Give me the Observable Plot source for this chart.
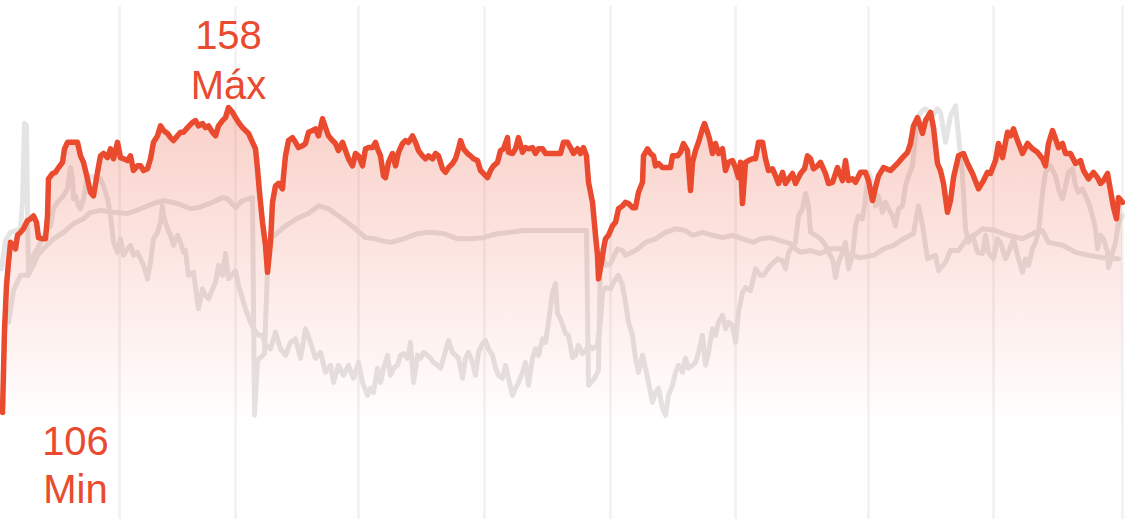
<!DOCTYPE html>
<html><head><meta charset="utf-8">
<script src="https://cdn.jsdelivr.net/npm/d3@7"></script>
<script src="https://cdn.jsdelivr.net/npm/@observablehq/plot@0.6"></script>
<style>html,body{margin:0;padding:0;background:#fff;overflow:hidden}</style>
</head><body><div id="chart"></div>
<script>
// elapsed time units (t) and heart rate (bpm)
const current = [[2,106.2],[4,120.1],[6,127.8],[8,131.7],[10,135.1],[13,134.6],[15,134.0],[17,136.3],[20,136.8],[23,137.4],[27,138.8],[30,139.1],[33,139.6],[36,138.5],[38,135.9],[42,135.7],[45,135.7],[47,139.6],[48,145.9],[52,146.8],[55,147.0],[58,147.8],[62,148.7],[64,151.0],[67,152.1],[72,152.1],[77,152.1],[80,149.8],[83,148.7],[87,145.9],[90,143.6],[93,143.0],[97,147.0],[100,149.8],[103,150.2],[107,149.5],[110,151.0],[113,149.3],[117,152.1],[120,149.5],[123,149.3],[127,149.0],[130,149.8],[133,147.3],[137,148.1],[140,148.1],[143,147.3],[147,147.6],[150,149.3],[153,152.1],[157,153.2],[160,154.9],[163,154.1],[167,153.6],[170,152.9],[173,152.4],[177,153.2],[180,153.8],[183,153.8],[187,154.6],[192,155.5],[195,155.8],[198,154.9],[202,155.3],[205,154.6],[208,154.9],[212,153.8],[215,153.2],[218,154.9],[222,155.8],[225,156.3],[228,158.0],[232,157.2],[235,156.3],[238,155.5],[242,154.6],[245,154.1],[248,153.6],[252,152.1],[255,151.0],[257,147.6],[259,143.6],[262,138.5],[265,134.6],[267,130.0],[270,135.1],[272,141.9],[275,144.7],[278,145.1],[282,144.2],[283,146.4],[285,149.8],[288,152.4],[292,152.9],[295,152.1],[298,151.2],[302,151.5],[305,151.9],[308,153.8],[312,154.1],[315,154.4],[318,153.2],[322,156.1],[325,154.6],[328,153.2],[332,152.4],[335,151.9],[338,150.7],[342,152.1],[345,150.7],[348,149.3],[352,148.1],[355,150.2],[358,149.8],[362,148.1],[365,151.0],[368,151.2],[372,151.2],[375,152.1],[377,151.0],[380,149.8],[383,146.4],[385,146.1],[388,148.7],[392,150.2],[395,148.1],[398,150.4],[402,151.9],[405,152.4],[408,152.1],[412,153.2],[415,152.1],[418,150.7],[422,149.8],[425,149.3],[428,149.8],[432,149.3],[435,150.2],[438,149.8],[442,147.6],[445,147.0],[448,147.8],[452,148.5],[455,149.3],[458,151.0],[460,152.4],[463,151.0],[467,150.2],[470,149.8],[473,149.3],[477,149.0],[480,147.3],[483,146.8],[487,146.1],[490,147.3],[493,148.1],[497,148.7],[500,150.7],[503,151.0],[507,152.9],[508,150.4],[512,150.2],[515,151.0],[518,152.9],[522,150.4],[525,151.2],[528,151.0],[532,151.2],[535,150.2],[538,151.0],[542,151.0],[545,150.2],[560,150.2],[563,152.1],[567,152.1],[570,151.2],[573,150.2],[577,151.0],[580,150.2],[583,151.2],[586,149.8],[588,145.3],[592,141.9],[595,136.3],[597,132.9],[598,128.9],[601,131.7],[603,134.0],[605,135.7],[608,136.3],[612,137.9],[615,138.5],[618,140.8],[622,141.3],[625,141.9],[628,141.7],[632,141.0],[635,141.0],[638,143.6],[642,145.3],[643,149.8],[647,151.0],[650,150.2],[653,149.8],[655,148.1],[658,148.5],[662,147.8],[670,147.8],[672,149.8],[677,149.8],[680,150.4],[683,151.9],[687,150.7],[690,143.9],[692,148.7],[695,150.7],[698,152.1],[702,154.4],[704,155.3],[707,153.8],[709,152.7],[712,150.2],[715,151.9],[718,150.2],[722,151.0],[725,147.3],[728,148.7],[732,149.0],[735,147.8],[738,146.1],[740,148.7],[742,141.7],[745,148.7],[748,149.0],[752,149.3],[755,149.3],[758,152.1],[762,152.1],[765,149.3],[768,147.3],[772,147.6],[775,146.4],[778,145.1],[782,147.0],[785,145.1],[789,146.1],[792,146.8],[795,145.1],[800,146.8],[804,147.6],[807,149.8],[810,149.3],[813,147.6],[817,148.1],[820,148.7],[825,146.8],[828,145.1],[832,145.3],[837,147.8],[842,145.6],[845,149.0],[848,145.6],[852,145.9],[855,145.3],[860,147.0],[865,147.0],[868,145.6],[872,142.2],[875,144.4],[878,146.4],[883,147.8],[890,147.3],[897,148.5],[902,149.5],[907,150.4],[910,151.9],[913,154.9],[917,156.3],[922,153.6],[925,155.8],[930,157.2],[933,154.6],[937,148.5],[940,147.3],[943,145.1],[947,140.2],[950,142.2],[953,146.1],[958,149.8],[963,150.2],[967,148.5],[972,146.8],[978,144.2],[983,145.6],[987,147.0],[990,146.8],[995,149.0],[998,151.9],[1002,149.5],[1007,153.8],[1010,153.2],[1013,154.4],[1017,152.4],[1022,150.2],[1027,151.9],[1032,151.0],[1037,150.4],[1042,149.3],[1045,148.1],[1048,151.9],[1052,154.1],[1055,152.7],[1058,151.2],[1062,151.9],[1065,150.2],[1070,150.2],[1075,148.5],[1080,149.0],[1083,147.3],[1088,145.9],[1093,147.0],[1097,146.1],[1100,145.1],[1103,145.6],[1107,146.8],[1110,143.9],[1113,141.0],[1116,139.1],[1118,142.7],[1122,141.9]];

const averageSeries = [[8,121.5],[13,126.9],[20,129.5],[27,129.5],[33,131.2],[37,132.9],[43,134.0],[53,135.7],[63,136.8],[73,138.3],[83,139.1],[90,140.2],[100,140.5],[113,140.2],[127,140.0],[140,140.8],[153,141.7],[163,142.2],[177,141.7],[190,140.8],[198,141.0],[212,141.9],[222,142.7],[227,142.5],[235,141.0],[242,142.2],[252,142.7],[254,105.7],[257,115.0],[264,116.2],[268,135.4],[285,137.9],[298,139.3],[308,140.0],[318,141.3],[328,140.8],[342,139.1],[355,137.4],[365,135.9],[375,135.7],[380,135.4],[390,135.1],[403,135.7],[417,136.6],[430,136.8],[443,136.6],[457,135.7],[470,135.7],[483,135.9],[497,136.6],[510,136.8],[523,137.1],[550,137.1],[586,137.1],[588,110.8],[594,112.0],[598,113.3],[600,133.7],[605,131.2],[610,131.5],[617,134.0],[622,133.7],[625,132.9],[635,133.7],[645,135.1],[655,135.7],[665,136.8],[675,137.4],[685,137.1],[692,136.3],[702,136.8],[712,136.3],[722,135.9],[732,136.3],[742,135.7],[753,135.1],[760,135.7],[770,135.9],[780,135.4],[790,134.9],[795,134.0],[800,133.4],[810,133.7],[820,133.2],[830,134.0],[840,134.0],[850,132.9],[860,132.5],[873,132.9],[883,134.0],[893,134.6],[903,135.7],[913,136.6],[918,141.3],[922,138.0],[927,132.3],[935,132.9],[938,130.3],[945,131.7],[950,133.7],[958,133.7],[965,135.4],[972,136.1],[982,137.4],[995,137.1],[1008,136.3],[1022,135.7],[1035,136.8],[1042,137.1],[1048,135.1],[1062,134.6],[1075,133.4],[1088,132.9],[1102,132.5],[1118,132.3]];

const previousSeries = [[1,130.6],[5,135.4],[10,136.8],[15,137.1],[20,137.4],[22,142.2],[24,155.3],[26,154.9],[27,141.3],[28,129.5],[30,130.3],[33,132.9],[37,134.0],[40,135.1],[43,136.3],[47,137.4],[50,137.9],[53,140.8],[57,141.9],[60,142.5],[63,143.0],[67,144.2],[70,147.8],[72,145.9],[73,142.5],[75,143.0],[78,141.3],[80,140.8],[83,142.5],[87,146.4],[100,145.9],[103,144.7],[107,142.5],[110,139.6],[113,135.1],[117,133.4],[120,135.7],[123,132.9],[127,134.0],[130,134.6],[133,132.9],[137,133.4],[140,132.3],[143,131.2],[147,128.9],[150,131.7],[153,135.7],[157,136.8],[160,138.5],[162,141.3],[163,139.6],[167,137.4],[170,136.3],[173,134.6],[177,136.3],[180,135.1],[183,133.4],[185,133.7],[188,129.5],[193,130.0],[198,123.8],[202,127.2],[205,126.1],[208,125.5],[215,128.3],[218,131.2],[222,129.5],[225,133.2],[228,128.9],[235,130.3],[238,127.8],[245,123.8],[250,121.5],[253,120.4],[258,119.3],[262,119.3],[265,117.6],[270,117.0],[275,119.8],[280,117.0],[285,115.9],[290,118.1],[295,118.7],[300,115.4],[305,120.4],[310,118.1],[315,115.4],[320,116.4],[325,113.0],[330,114.2],[333,111.3],[338,114.2],[343,112.5],[348,114.2],[353,112.0],[358,114.7],[362,111.3],[367,109.1],[370,110.3],[373,109.6],[377,113.7],[380,111.3],[383,113.7],[387,115.9],[390,112.5],[393,113.7],[397,114.2],[400,115.9],[403,116.2],[407,115.4],[410,118.1],[413,111.3],[417,115.9],[420,115.4],[423,116.4],[427,115.9],[430,115.4],[433,114.7],[437,114.2],[440,113.7],[443,115.4],[448,118.4],[452,116.4],[455,115.9],[458,115.4],[462,112.0],[465,115.4],[468,116.4],[472,114.7],[475,112.5],[478,116.4],[482,117.9],[485,118.4],[488,117.0],[492,115.9],[495,113.7],[498,112.5],[502,112.0],[505,114.2],[508,112.0],[512,109.1],[515,110.3],[518,111.3],[522,113.0],[525,114.7],[528,110.8],[532,115.4],[535,117.0],[538,115.9],[542,118.7],[545,118.1],[548,121.5],[552,126.6],[555,128.1],[557,123.0],[560,122.1],[565,119.6],[568,119.3],[572,115.5],[575,115.9],[578,117.6],[582,116.2],[585,116.7],[588,117.6],[592,117.0],[597,117.6],[600,121.8],[602,126.6],[605,127.4],[610,127.2],[613,128.3],[618,129.5],[622,127.8],[625,124.9],[628,121.5],[632,119.3],[635,115.4],[638,113.0],[642,115.9],[645,113.7],[648,111.3],[652,107.9],[655,109.6],[658,110.3],[662,106.9],[665,105.7],[668,109.1],[672,110.8],[675,113.0],[678,114.2],[682,113.0],[685,115.4],[688,113.7],[692,114.2],[695,114.7],[698,116.4],[702,119.3],[705,114.2],[708,116.4],[712,120.4],[715,119.3],[718,121.5],[722,122.7],[725,120.4],[728,121.5],[732,121.0],[735,118.1],[738,123.2],[742,126.6],[745,127.4],[750,126.9],[755,130.6],[760,129.5],[763,129.5],[770,131.2],[777,132.3],[782,132.0],[785,130.6],[788,133.4],[795,135.1],[798,139.6],[802,140.8],[805,143.4],[808,141.3],[810,136.8],[815,136.3],[820,135.7],[825,134.6],[828,133.4],[832,132.3],[835,129.1],[838,131.7],[842,133.4],[845,135.1],[848,130.6],[852,132.9],[855,137.9],[858,139.6],[862,139.1],[865,142.5],[868,147.0],[872,145.3],[875,141.3],[878,143.0],[882,140.2],[885,141.9],[888,140.8],[892,139.6],[895,137.9],[898,140.8],[902,141.3],[905,144.7],[908,146.4],[912,148.1],[915,153.2],[918,156.6],[922,157.5],[925,157.8],[928,157.2],[932,156.6],[937,157.8],[940,157.2],[945,152.1],[950,156.6],[955,158.3],[958,153.2],[962,146.4],[965,137.4],[968,135.1],[972,136.3],[977,133.4],[982,133.2],[985,136.3],[988,133.4],[993,132.3],[997,135.7],[1000,135.1],[1005,132.3],[1008,133.4],[1013,135.7],[1018,132.3],[1022,130.0],[1025,132.3],[1028,131.2],[1032,134.0],[1035,135.1],[1038,136.8],[1040,140.2],[1042,143.6],[1045,147.0],[1050,148.1],[1055,146.4],[1058,144.2],[1062,142.5],[1065,144.7],[1068,147.0],[1072,147.6],[1075,144.7],[1078,143.6],[1082,144.2],[1085,143.0],[1088,141.9],[1092,139.6],[1095,137.4],[1097,134.0],[1100,136.3],[1103,135.7],[1107,133.4],[1108,130.8],[1112,133.4],[1115,135.1],[1118,138.5],[1122,139.6]];

const gridTimes = [119, 235, 358, 484, 610, 735, 868, 993, 1122];
const maxLabel = "Máx";
const minLabel = "Min";

const RED = "#ea4a2e";
const GREY = "#e4e4e4";
const FONT = "'Liberation Sans', Arial, Helvetica, sans-serif";

const maxPt = current.reduce((a, b) => (b[1] > a[1] ? b : a));
const minPt = current.reduce((a, b) => (b[1] < a[1] ? b : a));

const X = d => d[0], Y = d => d[1];

const chart = Plot.plot({
  width: 1125,
  height: 519,
  margin: 0,
  style: {background: "#fff", overflow: "visible"},
  x: {domain: [0, 1125], axis: null},
  y: {domain: [88, 176.2], axis: null},
  marks: [
    Plot.ruleX(gridTimes, {x: d => d, y1: 175.2, y2: 88, stroke: "#f3f3f3", strokeWidth: 3}),
    Plot.line(averageSeries, {x: X, y: Y, stroke: GREY, strokeWidth: 5, strokeLinejoin: "round", strokeLinecap: "round"}),
    Plot.line(previousSeries, {x: X, y: Y, stroke: GREY, strokeWidth: 5, strokeLinejoin: "round", strokeLinecap: "round"}),
    Plot.areaY(current, {x: X, y1: 104, y2: Y, fill: "url(#hrFade)"}),
    Plot.line(current, {x: X, y: Y, stroke: RED, strokeWidth: 5.5, strokeLinejoin: "round", strokeLinecap: "round"}),
    Plot.text([maxPt], {x: X, y: Y, text: d => String(Math.round(d[1])), dy: -71, fontSize: 40, fill: RED, fontFamily: FONT}),
    Plot.text([maxPt], {x: X, y: Y, text: () => maxLabel, dy: -21, fontSize: 40, fill: RED, fontFamily: FONT}),
    Plot.text([minPt], {x: X, y: Y, text: d => String(Math.round(d[1])), dx: 73, dy: 30, fontSize: 40, fill: RED, fontFamily: FONT}),
    Plot.text([minPt], {x: X, y: Y, text: () => minLabel, dx: 73, dy: 78, fontSize: 40, fill: RED, fontFamily: FONT})
  ]
});

const svg = d3.select(chart);
const defs = svg.insert("defs", ":first-child");
const grad = defs.append("linearGradient").attr("id", "hrFade").attr("x1", 0).attr("x2", 0).attr("y1", 0).attr("y2", 1);
grad.append("stop").attr("offset", "0%").attr("stop-color", RED).attr("stop-opacity", 0.26);
grad.append("stop").attr("offset", "100%").attr("stop-color", RED).attr("stop-opacity", 0);

document.getElementById("chart").appendChild(chart);
</script>
</body></html>
